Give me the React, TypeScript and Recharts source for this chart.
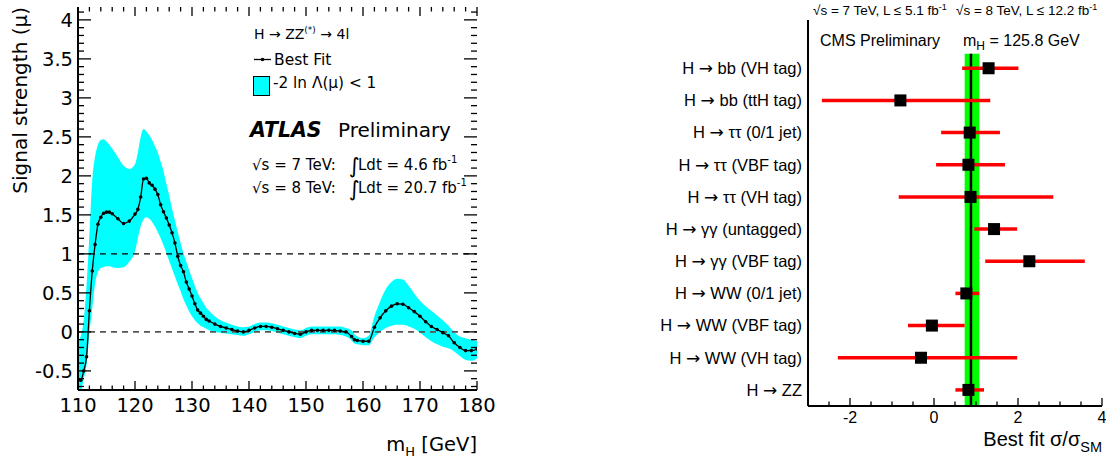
import React from 'react';
import {
  ComposedChart, Area, Line, XAxis, YAxis, ReferenceLine, ReferenceArea, Scatter, ErrorBar,
} from 'recharts';

// ---------------- Left panel (ATLAS H -> ZZ -> 4l) ----------------
const massPoints = [110,110.5,111,111.5,112,112.5,113,113.5,114,114.5,115,115.5,116,
  117,118,119,
  120,120.5,121,121.5,122,122.5,123,123.5,124,124.5,125,125.5,126,126.5,127,127.5,128,128.5,129,129.5,130,130.5,131,131.5,132,132.5,133,
  134,135,136,137,138,139,140,141,142,143,144,145,146,147,148,149,150,151,152,153,154,155,156,157,158,
  158.5,
  159,160,161,162,163,164,165,166,167,168,169,170,171,172,173,174,175,176,177,178,179,180];

const bestFit = [-0.62,-0.62,-0.5,-0.32,0.27,0.78,1.12,1.38,1.47,1.52,1.535,1.535,1.515,
  1.45,1.39,1.42,
  1.51,1.57,1.73,1.96,1.97,1.91,1.88,1.83,1.76,1.63,1.54,1.46,1.37,1.27,1.14,0.97,0.85,0.77,0.64,0.55,0.46,0.36,0.28,0.24,0.2,0.16,0.14,
  0.1,0.07,0.05,0.03,0.01,0.0,0.02,0.05,0.07,0.07,0.06,0.04,0.02,0.0,-0.02,-0.03,0.0,0.02,0.02,0.02,0.02,0.02,0.01,0.0,-0.06,
  -0.1,
  -0.11,-0.12,-0.12,0.06,0.18,0.27,0.33,0.36,0.355,0.31,0.26,0.2,0.13,0.07,0.03,-0.01,-0.05,-0.14,-0.2,-0.24,-0.24,-0.22];

const bandHigh = [-0.15,-0.05,0.15,0.6,1.25,1.95,2.25,2.4,2.46,2.47,2.44,2.4,2.35,
  2.24,2.13,2.09,
  2.15,2.3,2.5,2.6,2.57,2.52,2.46,2.38,2.3,2.18,2.06,1.9,1.75,1.58,1.43,1.28,1.14,1.01,0.9,0.79,0.69,0.59,0.5,0.43,0.37,0.31,0.27,
  0.2,0.15,0.12,0.09,0.07,0.06,0.07,0.1,0.12,0.12,0.11,0.09,0.07,0.05,0.03,0.02,0.05,0.07,0.07,0.07,0.07,0.07,0.07,0.05,0.02,
  -0.03,
  -0.06,-0.08,-0.05,0.2,0.39,0.55,0.64,0.68,0.67,0.59,0.49,0.4,0.33,0.27,0.21,0.15,0.08,0.0,-0.06,-0.08,-0.1,-0.12];

const bandLow = [-0.72,-0.74,-0.6,-0.42,-0.02,0.3,0.62,0.77,0.82,0.83,0.84,0.84,0.83,
  0.82,0.83,0.9,
  1.03,1.2,1.35,1.44,1.47,1.45,1.41,1.35,1.28,1.2,1.11,1.01,0.91,0.81,0.71,0.61,0.52,0.42,0.34,0.26,0.2,0.15,0.11,0.08,0.06,0.04,0.02,
  0.0,-0.01,-0.02,-0.03,-0.04,-0.05,-0.03,0.0,0.02,0.02,0.01,-0.01,-0.03,-0.05,-0.07,-0.08,-0.05,-0.03,-0.03,-0.03,-0.03,-0.03,-0.04,-0.06,-0.11,
  -0.15,
  -0.16,-0.17,-0.17,-0.07,0.0,0.05,0.08,0.09,0.09,0.07,0.04,-0.01,-0.07,-0.12,-0.16,-0.19,-0.21,-0.25,-0.31,-0.36,-0.37,-0.34];

const massTicks = [110, 120, 130, 140, 150, 160, 170, 180];
const muTicks = [-0.5, 0, 0.5, 1, 1.5, 2, 2.5, 3, 3.5, 4];

// ---------------- Right panel (CMS channel compatibility) ----------------
const channelProcess = ['bb', 'bb', 'ττ', 'ττ', 'ττ', 'γγ', 'γγ', 'WW', 'WW', 'WW', 'ZZ'];
const channelTag = ['(VH tag)', '(ttH tag)', '(0/1 jet)', '(VBF tag)', '(VH tag)', '(untagged)', '(VBF tag)', '(0/1 jet)', '(VBF tag)', '(VH tag)', ''];
const channels = channelProcess.map((p, i) => `H → ${p}${channelTag[i] ? ' ' + channelTag[i] : ''}`);
const channelFit = [1.3, -0.8, 0.85, 0.82, 0.87, 1.43, 2.27, 0.77, -0.05, -0.31, 0.82];
const channelLow = [0.67, -2.67, 0.17, 0.05, -0.84, 0.96, 1.22, 0.51, -0.62, -2.29, 0.51];
const channelHigh = [2.01, 1.34, 1.57, 1.69, 2.84, 1.98, 3.59, 1.08, 0.73, 1.98, 1.19];
const combinedFit = 0.88;
const combinedLow = 0.73;
const combinedHigh = 1.08;
const sigmaTicks = [-2, 0, 2, 4];

// ---------------- helpers ----------------
const DV = "'DejaVu Sans', Verdana, sans-serif";
const AR = "'Liberation Sans', Arial, Helvetica, sans-serif";

function steps(from: number, to: number, step: number): number[] {
  const out: number[] = [];
  const n = Math.round((to - from) / step);
  for (let i = 0; i <= n; i++) out.push(Math.round((from + i * step) * 1000) / 1000);
  return out;
}
const isIn = (v: number, list: number[]) => list.some((t) => Math.abs(t - v) < 1e-6);

const massAllTicks = steps(110, 180, 2);
const muAllTicks = steps(-0.7, 4.1, 0.1);
const sigmaAllTicks = steps(-3, 4, 0.5);

// axis geometry (domain and pixel extent of the plot areas)
const MASS_DOMAIN: [number, number] = [110, 180];
const MU_DOMAIN: [number, number] = [-0.745, 4.165];
const SIGMA_DOMAIN: [number, number] = [-3, 4];
const ROW_DOMAIN: [number, number] = [-1.5, 10.5];
const LEFT_W = 399, LEFT_H = 383, RIGHT_H = 386;

type Seg = [{ x: number; y: number }, { x: number; y: number }];
function buildLeftTickSegs(): Seg[] {
  const gevPerPx = (MASS_DOMAIN[1] - MASS_DOMAIN[0]) / LEFT_W;
  const muPerPx = (MU_DOMAIN[1] - MU_DOMAIN[0]) / LEFT_H;
  const segs: Seg[] = [];
  massAllTicks.forEach((t) => {
    const L = (isIn(t, massTicks) ? 9 : 4.5) * muPerPx;
    segs.push([{ x: t, y: MU_DOMAIN[0] }, { x: t, y: MU_DOMAIN[0] + L }]);
    segs.push([{ x: t, y: MU_DOMAIN[1] }, { x: t, y: MU_DOMAIN[1] - L }]);
  });
  muAllTicks.forEach((t) => {
    const L = (isIn(t, muTicks) ? 13 : 6) * gevPerPx;
    segs.push([{ x: MASS_DOMAIN[0], y: t }, { x: MASS_DOMAIN[0] + L, y: t }]);
    segs.push([{ x: MASS_DOMAIN[1], y: t }, { x: MASS_DOMAIN[1] - L, y: t }]);
  });
  return segs;
}
function buildRightTickSegs(): Seg[] {
  const rowPerPx = (ROW_DOMAIN[1] - ROW_DOMAIN[0]) / RIGHT_H;
  return sigmaAllTicks.map((t) => {
    const L = (isIn(t, sigmaTicks) ? 8 : 4.5) * rowPerPx;
    return [{ x: t, y: ROW_DOMAIN[1] }, { x: t, y: ROW_DOMAIN[1] - L }] as Seg;
  });
}

function makeLabelTick(orient: 'bottom' | 'left', majors: number[], offset: number, size: number, family: string) {
  return (props: any) => {
    const x = Number(props.x);
    const y = Number(props.y);
    const v = Number(props.payload.value);
    if (!isIn(v, majors)) return <g />;
    if (orient === 'bottom') {
      return <text x={x} y={y + offset} dy="0.71em" textAnchor="middle" fontSize={size} fontFamily={family} fill="#000">{String(v)}</text>;
    }
    return <text x={x - offset} y={y} dy="0.355em" textAnchor="end" fontSize={size} fontFamily={family} fill="#000">{String(v)}</text>;
  };
}

function CategoryTick(props: any) {
  const x = Number(props.x);
  const y = Number(props.y);
  const i = Number(props.payload.value);
  const tag = channelTag[i];
  return (
    <text x={x} y={y} dy="0.355em" textAnchor="end" fontSize={16.5} fontFamily={AR} fill="#000">
      H <tspan fontFamily={DV} fontSize={17}>→</tspan> {channelProcess[i]}{tag ? ' ' + tag : ''}
    </text>
  );
}

const frame = { stroke: '#000', strokeWidth: 2 };

export default function App() {
  const leftData = massPoints.map((m, i) => ({ m, mu: bestFit[i], band: [bandLow[i], bandHigh[i]] }));
  const rightData = channels.map((c, i) => ({
    name: c,
    row: i,
    value: channelFit[i],
    err: [channelFit[i] - channelLow[i], channelHigh[i] - channelFit[i]],
  }));
  const leftSegs = buildLeftTickSegs();
  const rightSegs = buildRightTickSegs();

  const square = (p: any) => <rect x={p.cx - 6} y={p.cy - 6} width={12} height={12} fill="#000" />;

  return (
    <div style={{ position: 'absolute', left: 0, top: 0, width: 1106, height: 459, background: '#fff' }}>
      <div style={{ position: 'absolute', left: 0, top: 0 }}>
        <ComposedChart width={500} height={459} data={leftData} margin={{ top: 7, right: 23, bottom: 29, left: 18 }}>
          <XAxis dataKey="m" type="number" domain={MASS_DOMAIN} ticks={massAllTicks} interval={0} height={40}
            tickSize={0} tickMargin={0} tickLine={false} axisLine={frame} allowDataOverflow
            tick={makeLabelTick('bottom', massTicks, 8, 19.5, DV)} />
          <XAxis xAxisId="top" orientation="top" type="number" domain={MASS_DOMAIN} height={0}
            tick={false} tickLine={false} axisLine={frame} allowDataOverflow />
          <YAxis type="number" domain={MU_DOMAIN} ticks={muAllTicks} interval={0} width={60}
            tickSize={0} tickMargin={0} tickLine={false} axisLine={frame} allowDataOverflow
            tick={makeLabelTick('left', muTicks, 5, 19.5, DV)} />
          <YAxis yAxisId="right" orientation="right" type="number" domain={MU_DOMAIN} width={0}
            tick={false} tickLine={false} axisLine={frame} allowDataOverflow />
          <Area dataKey="band" type="monotone" fill="#00ffff" fillOpacity={1} stroke="none" isAnimationActive={false} />
          <ReferenceLine y={1} stroke="#000" strokeWidth={1.2} strokeDasharray="6 5" />
          <ReferenceLine y={0} stroke="#555" strokeWidth={1.8} strokeDasharray="6 5" />
          {leftSegs.map((s, i) => (
            <ReferenceLine key={`lt${i}`} segment={s} stroke="#000" strokeWidth={1.3} ifOverflow="visible" />
          ))}
          <Line dataKey="mu" type="monotone" stroke="#000" strokeWidth={1.3}
            dot={{ r: 1.8, fill: '#000', stroke: 'none' }} isAnimationActive={false} />
        </ComposedChart>
      </div>

      <div style={{ position: 'absolute', left: 640, top: 0 }}>
        <ComposedChart width={466} height={459} data={rightData} margin={{ top: 20, right: 4, bottom: 23, left: 8 }}>
          <XAxis dataKey="value" type="number" domain={SIGMA_DOMAIN} ticks={sigmaAllTicks} interval={0} height={30}
            tickSize={0} tickMargin={0} tickLine={false} axisLine={frame} allowDataOverflow
            tick={makeLabelTick('bottom', sigmaTicks, 6, 16, AR)} />
          <XAxis xAxisId="top" orientation="top" type="number" domain={SIGMA_DOMAIN} height={0}
            tick={false} tickLine={false} axisLine={frame} allowDataOverflow />
          <YAxis dataKey="row" type="number" domain={ROW_DOMAIN} reversed ticks={channels.map((_, i) => i)} interval={0}
            width={160} tickSize={0} tickMargin={6} tickLine={false} axisLine={frame} allowDataOverflow
            tick={CategoryTick} />
          <YAxis yAxisId="right" orientation="right" type="number" domain={ROW_DOMAIN} width={0}
            tick={false} tickLine={false} axisLine={frame} allowDataOverflow />
          <ReferenceArea x1={combinedLow} x2={combinedHigh} y1={-0.45} y2={10.5} fill="#00ff00" fillOpacity={1} stroke="none" />
          <ReferenceLine segment={[{ x: combinedFit, y: -0.45 }, { x: combinedFit, y: 10.5 }]} stroke="#000" strokeWidth={2.5} />
          {rightSegs.map((s, i) => (
            <ReferenceLine key={`rt${i}`} segment={s} stroke="#000" strokeWidth={1.3} ifOverflow="visible" />
          ))}
          <Scatter dataKey="value" shape={square} isAnimationActive={false}>
            <ErrorBar dataKey="err" direction="x" width={0} stroke="#ff0000" strokeWidth={3.5} isAnimationActive={false} />
          </Scatter>
        </ComposedChart>
      </div>

      <svg width={1106} height={459} style={{ position: 'absolute', left: 0, top: 0, pointerEvents: 'none' }}>
        {/* left panel annotations */}
        <text x={254} y={39} fontSize={14} fontFamily={DV} fill="#000">
          H → ZZ<tspan fontSize={9} dy={-6}>(*)</tspan><tspan dy={6}> → 4l</tspan>
        </text>
        <line x1={254} x2={271} y1={59.5} y2={59.5} stroke="#000" strokeWidth={1.3} />
        <circle cx={262.5} cy={59.5} r={1.8} fill="#000" />
        <text x={274} y={64.5} fontSize={15.5} fontFamily={DV} fill="#000">Best Fit</text>
        <rect x={253.5} y={76.5} width={16} height={19} fill="#00ffff" stroke="#000" strokeWidth={1} />
        <text x={273} y={88} fontSize={15.3} fontFamily={DV} fill="#000">-2 ln Λ(μ) &lt; 1</text>
        <text x={250} y={137} fontSize={20.5} fontFamily={DV} fontWeight="bold" fontStyle="italic" fill="#000">ATLAS</text>
        <text x={338} y={137} fontSize={20} fontFamily={DV} fill="#000">Preliminary</text>
        <text x={252} y={170} fontSize={15} fontFamily={DV} fill="#000">√s = 7 TeV:</text>
        <text x={349} y={173} fontSize={21} fontFamily={DV} fill="#000">∫</text>
        <text x={358} y={170} fontSize={15} fontFamily={DV} fill="#000">
          Ldt = 4.6 fb<tspan fontSize={10} dy={-7}>-1</tspan>
        </text>
        <text x={252} y={193} fontSize={15} fontFamily={DV} fill="#000">√s = 8 TeV:</text>
        <text x={349} y={196} fontSize={21} fontFamily={DV} fill="#000">∫</text>
        <text x={358} y={193} fontSize={15} fontFamily={DV} fill="#000">
          Ldt = 20.7 fb<tspan fontSize={10} dy={-7}>-1</tspan>
        </text>
        <text transform="rotate(-90)" x={-7} y={27} textAnchor="end" fontSize={20} fontFamily={DV} fill="#000">
          Signal strength (μ)
        </text>
        <text x={477} y={451} textAnchor="end" fontSize={19.5} fontFamily={DV} fill="#000">
          m<tspan fontSize={13} dy={5}>H</tspan><tspan dy={-5}> [GeV]</tspan>
        </text>

        {/* right panel annotations */}
        <text x={813} y={15} fontSize={13.5} fontFamily={AR} fill="#000">
          √s = 7 TeV, L ≤ 5.1 fb<tspan fontSize={9} dy={-5}>-1</tspan>
        </text>
        <text x={956} y={15} fontSize={13.5} fontFamily={AR} fill="#000">
          √s = 8 TeV, L ≤ 12.2 fb<tspan fontSize={9} dy={-5}>-1</tspan>
        </text>
        <text x={820} y={46} fontSize={16} fontFamily={AR} fill="#000">CMS Preliminary</text>
        <text x={963} y={46} fontSize={16} fontFamily={AR} fill="#000">
          m<tspan fontSize={12} dy={4}>H</tspan><tspan dy={-4}> = 125.8 GeV</tspan>
        </text>
        <text x={1102} y={446} textAnchor="end" fontSize={20} fontFamily={AR} fill="#000">
          Best fit σ/σ<tspan fontSize={14.5} dy={6}>SM</tspan>
        </text>
      </svg>
    </div>
  );
}
